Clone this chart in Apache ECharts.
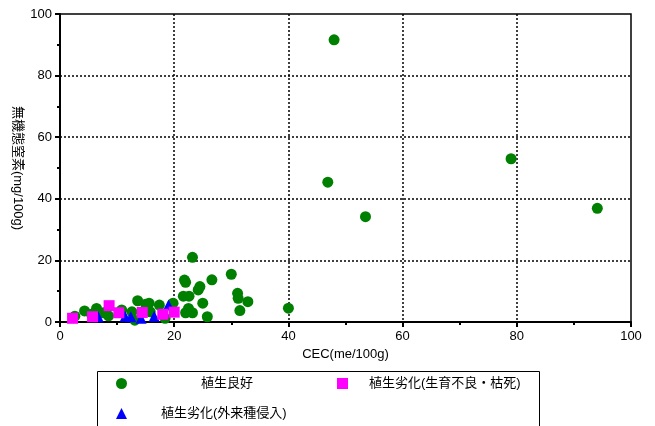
<!DOCTYPE html>
<html><head><meta charset="utf-8">
<script src="https://cdn.jsdelivr.net/npm/echarts@6/dist/echarts.min.js"></script>
<style>html,body{margin:0;padding:0;background:#fff}#c{width:655px;height:426px}</style>
</head><body><div id="c"></div>
<script>
const seriesNames = ['植生良好', '植生劣化(生育不良・枯死)', '植生劣化(外来種侵入)'];
const xTicks = [0, 20, 40, 60, 80, 100];
const yTicks = [0, 20, 40, 60, 80, 100];
const goodData = [
  [2.6,1.9],[4.3,3.6],[5.5,2.5],[6.4,4.4],[7.6,3.0],[8.5,2.0],[10.8,3.9],[12.6,3.3],[13.1,0.6],
  [13.6,6.9],[15.0,5.8],[15.6,6.1],[15.8,3.3],[17.4,5.5],[18.4,1.2],[19.8,6.1],[21.6,8.4],[22.6,8.4],
  [21.8,13.6],[22.0,12.9],[23.2,21.0],[22.5,4.4],[22.0,3.0],[23.2,3.0],[24.2,10.4],[24.5,11.5],
  [25.0,6.1],[25.8,1.7],[26.6,13.7],[30.0,15.5],[31.1,9.3],[31.2,7.7],[32.9,6.6],[31.5,3.7],
  [40.0,4.5],[46.9,45.4],[48.0,91.6],[53.5,34.2],[79.0,53.0],[94.1,36.9]
];
const poorData = [[2.2,1.2],[5.7,1.7],[8.6,5.3],[10.3,3.0],[14.4,3.1],[18.0,2.5],[20.0,3.2]];
const invasiveData = [[6.7,1.7],[11.4,1.9],[12.4,1.7],[14.2,1.2],[16.5,1.9],[19.0,5.5]];

const FONT = '"Liberation Sans", Arial, "Noto Sans CJK JP", sans-serif';
const chart = echarts.init(document.getElementById('c'), null, {renderer: 'canvas'});

function axisCommon(ticks) {
  return {
    type: 'value', min: ticks[0], max: ticks[ticks.length - 1], interval: ticks[1] - ticks[0],
    axisLine: {show: true, onZero: false, lineStyle: {color: '#000', width: 2}},
    axisTick: {show: true, inside: false, length: 5, lineStyle: {color: '#000', width: 2}},
    minorTick: {show: true, splitNumber: 2, length: 3, lineStyle: {color: '#000', width: 2}},
    axisLabel: {color: '#000', fontSize: 13, fontFamily: FONT, margin: 8},
    splitLine: {show: true, showMinLine: false, showMaxLine: false,
      lineStyle: {color: '#000', width: 1.5, type: [2, 2]}},
    nameMoveOverlap: false,
    nameTextStyle: {color: '#000', fontSize: 13, fontFamily: FONT}
  };
}

const legendBase = {orient: 'horizontal', padding: 0, itemWidth: 11, itemHeight: 11,
  selectedMode: false, textStyle: {color: '#000', fontSize: 13, fontFamily: FONT}};

chart.setOption({
  animation: false,
  backgroundColor: '#fff',
  grid: {left: 60, right: 24, top: 14, bottom: 104, show: true, borderColor: '#000', borderWidth: 1.5, containLabel: false},
  xAxis: Object.assign(axisCommon(xTicks), {name: 'CEC(me/100g)', nameLocation: 'middle', nameGap: 26}),
  yAxis: Object.assign(axisCommon(yTicks), {name: '無機態窒素(mg/100g)', nameLocation: 'middle', nameGap: 36, nameRotate: -90}),
  legend: [
    Object.assign({}, legendBase, {left: 116, top: 377, data: [{name: seriesNames[0], icon: 'circle'}],
      textStyle: Object.assign({}, legendBase.textStyle, {padding: [0, 0, 0, 69]})}),
    Object.assign({}, legendBase, {left: 337, top: 377, data: [{name: seriesNames[1], icon: 'rect'}],
      textStyle: Object.assign({}, legendBase.textStyle, {padding: [0, 0, 0, 16]})}),
    Object.assign({}, legendBase, {left: 116, top: 407, data: [{name: seriesNames[2], icon: 'triangle'}],
      textStyle: Object.assign({}, legendBase.textStyle, {padding: [0, 0, 0, 29]})})
  ],
  graphic: [{type: 'rect', left: 95, top: 369, shape: {width: 442, height: 80},
    style: {fill: 'none', stroke: '#000', lineWidth: 1}, z: -1, silent: true}],
  series: [
    {name: seriesNames[0], type: 'scatter', data: goodData, symbol: 'circle', symbolSize: 11,
      itemStyle: {color: '#008000', opacity: 1}, z: 2},
    {name: seriesNames[2], type: 'scatter', data: invasiveData, symbol: 'triangle', symbolSize: 11,
      itemStyle: {color: '#0000FF', opacity: 1}, z: 3},
    {name: seriesNames[1], type: 'scatter', data: poorData, symbol: 'rect', symbolSize: 11,
      itemStyle: {color: '#FF00FF', opacity: 1}, z: 4}
  ]
});
</script></body></html>
